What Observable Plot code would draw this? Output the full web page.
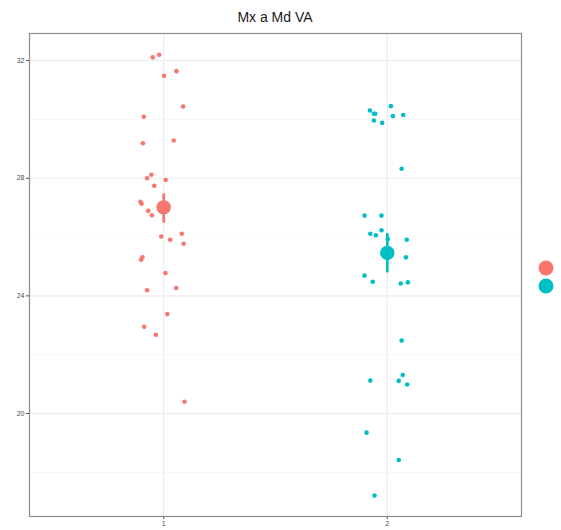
<!DOCTYPE html>
<html>
<head>
<meta charset="utf-8">
<script src="https://cdn.jsdelivr.net/npm/d3@7"></script>
<script src="https://cdn.jsdelivr.net/npm/@observablehq/plot@0.6"></script>
<style>
  body { margin: 0; background: #fff; font-family: "Liberation Sans", Arial, sans-serif; }
  #wrap { position: relative; width: 561px; height: 530px; }
  #title { position: absolute; left: 29px; width: 492px; top: 9px; text-align: center; font-size: 14px; line-height: 16px; color: #1a1a1a; }
  #chart { position: absolute; left: 0; top: 28px; }
  #legend { position: absolute; left: 536px; top: 258px; }
</style>
</head>
<body>
<div id="wrap">
  <div id="title">Mx a Md VA</div>
  <div id="chart"></div>
  <svg id="legend" width="22" height="40"></svg>
</div>
<script>
const groups = [1, 2];
const groupColors = ["#F8766D", "#00BFC4"];

// Group 1 raw values and horizontal jitter (x units)
const g1Values = [32.11, 32.2, 31.48, 31.64, 30.44, 30.09, 29.19, 29.28, 28.0, 28.12, 27.94, 27.74, 27.2, 27.13, 26.89, 26.74, 26.02, 26.11, 25.91, 25.77, 25.31, 25.23, 24.78, 24.19, 24.27, 23.38, 22.95, 22.68, 20.4];
const g1Jitter = [-0.049, -0.020, 0.002, 0.057, 0.087, -0.089, -0.093, 0.045, -0.074, -0.055, 0.009, -0.042, -0.104, -0.099, -0.069, -0.053, -0.011, 0.081, 0.029, 0.089, -0.095, -0.101, 0.008, -0.074, 0.056, 0.016, -0.087, -0.035, 0.093];

// Group 2 raw values and horizontal jitter (x units)
const g2Values = [30.30, 30.45, 30.19, 30.19, 30.11, 30.15, 29.96, 29.88, 28.32, 26.73, 26.73, 26.11, 26.06, 26.23, 25.93, 25.91, 25.31, 24.69, 24.48, 24.42, 24.46, 22.48, 21.12, 21.31, 21.11, 20.99, 19.35, 18.42, 17.21];
const g2Jitter = [-0.078, 0.016, -0.060, -0.054, 0.025, 0.071, -0.060, -0.023, 0.064, -0.102, -0.026, -0.076, -0.051, -0.026, 0.002, 0.087, 0.083, -0.102, -0.065, 0.060, 0.092, 0.064, -0.076, 0.069, 0.051, 0.089, -0.093, 0.051, -0.057];

// Summary (mean with error bar) per group
const means = [27.01, 25.46];
const lows = [26.47, 24.78];
const highs = [27.47, 26.12];

const yTicks = [20, 24, 28, 32];
const yMinor = [18, 22, 26, 30];

const points = [
  ...g1Values.map((v, i) => ({group: 1, x: 1 + g1Jitter[i], y: v})),
  ...g2Values.map((v, i) => ({group: 2, x: 2 + g2Jitter[i], y: v}))
];
const summary = groups.map((g, i) => ({group: g, mean: means[i], lo: lows[i], hi: highs[i]}));

const plot = Plot.plot({
  width: 561,
  height: 502,
  marginLeft: 29,
  marginRight: 40,
  marginTop: 5,
  marginBottom: 14,
  style: {fontFamily: "Liberation Sans, Arial, sans-serif", fontSize: "7px", color: "#4D4D4D"},
  x: {domain: [0.4, 2.6], ticks: groups, tickFormat: d => String(d), tickSize: 3, tickPadding: 2, label: null},
  y: {domain: [16.5, 32.92], ticks: yTicks, tickSize: 3, tickPadding: 2, label: null},
  color: {domain: groups, range: groupColors},
  marks: [
    Plot.ruleY(yMinor, {stroke: "#F2F2F2", strokeWidth: 0.6}),
    Plot.ruleY(yTicks, {stroke: "#EBEBEB", strokeWidth: 1.1}),
    Plot.ruleX(groups, {stroke: "#EBEBEB", strokeWidth: 1.1}),
    Plot.dot(points, {x: "x", y: "y", fill: "group", r: 2.3, stroke: null}),
    Plot.ruleX(summary, {x: "group", y1: "lo", y2: "hi", stroke: "group", strokeWidth: 2.6}),
    Plot.dot(summary, {x: "group", y: "mean", fill: "group", r: 7.2, stroke: null}),
    Plot.frame({stroke: "#8C8C8C", strokeWidth: 1.2})
  ]
});
document.getElementById("chart").appendChild(plot);

const leg = d3.select("#legend");
leg.selectAll("circle").data(groupColors).join("circle")
  .attr("cx", 10).attr("cy", (d, i) => 10 + i * 18).attr("r", 7.5).attr("fill", d => d);
</script>
</body>
</html>
